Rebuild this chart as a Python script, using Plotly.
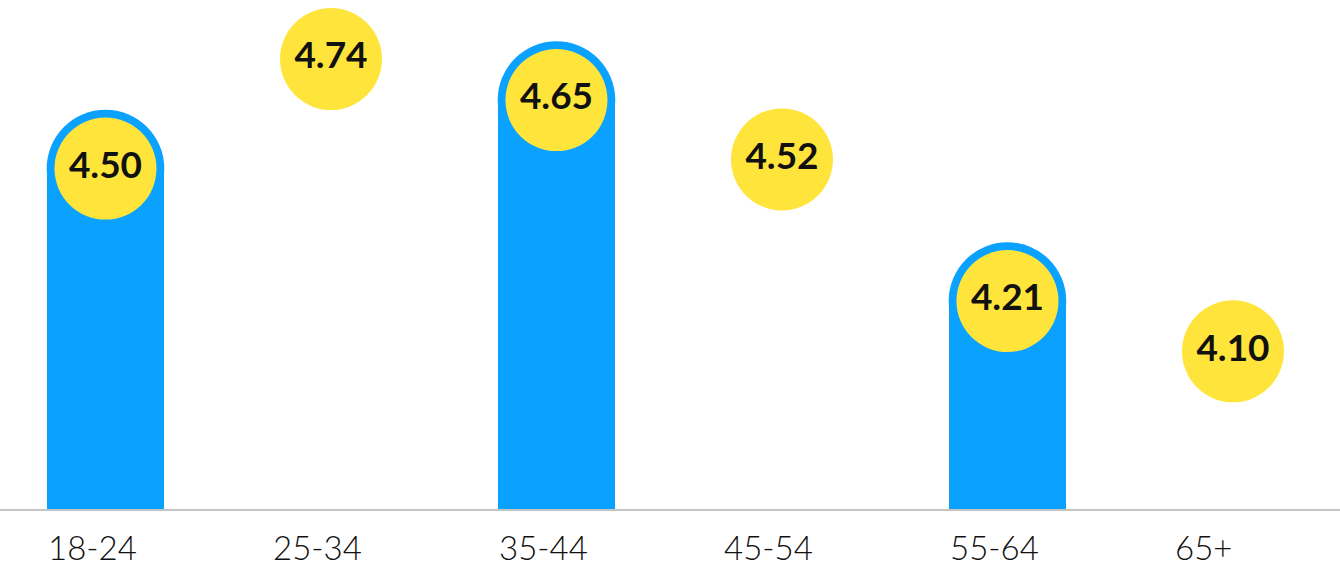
import plotly.graph_objects as go

categories = ["18-24", "25-34", "35-44", "45-54", "55-64", "65+"]
scores = [4.50, 4.74, 4.65, 4.52, 4.21, 4.10]
score_labels = ["4.50", "4.74", "4.65", "4.52", "4.21", "4.10"]
bar_categories = ["18-24", "35-44", "55-64"]
bar_scores = [4.50, 4.65, 4.21]

BLUE = "#0AA1FF"
YELLOW = "#FFE53B"
FONT = "Futura, Lato, 'Noto Sans', sans-serif"

BAR_W = 0.521  # in category units

fig = go.Figure()

# bars from baseline to value
fig.add_trace(go.Bar(
    x=bar_categories, y=bar_scores, width=BAR_W,
    marker=dict(color=BLUE, line=dict(width=0)),
    hoverinfo="skip", showlegend=False,
))
# rounded caps
fig.add_trace(go.Scatter(
    x=bar_categories, y=bar_scores, mode="markers",
    marker=dict(size=117.6, color=BLUE, line=dict(width=0)),
    hoverinfo="skip", showlegend=False, cliponaxis=False,
))
# yellow value circles
fig.add_trace(go.Scatter(
    x=categories, y=scores, mode="markers+text",
    text=score_labels, textposition="middle center",
    textfont=dict(family=FONT, size=37, color="#111111", weight="bold"),
    marker=dict(size=102, color=YELLOW, line=dict(width=0)),
    hoverinfo="skip", showlegend=False, cliponaxis=False,
))

# category labels, left-aligned with the bar edge
for i, c in enumerate(categories):
    fig.add_annotation(
        x=i - BAR_W / 2, y=-0.116, xref="x", yref="paper",
        text=c, showarrow=False, xanchor="left", yanchor="bottom",
        borderpad=0,
        font=dict(family=FONT, size=33, color="#111111", weight=300),
    )

fig.update_layout(
    width=1340, height=568,
    margin=dict(l=0, r=0, t=0, b=59),
    plot_bgcolor="white", paper_bgcolor="white",
    xaxis=dict(type="category", categoryorder="array", categoryarray=categories,
               range=[-0.4678, 5.4746], showticklabels=False, showgrid=False,
               zeroline=False, showline=True, linecolor="#c4c4c4", linewidth=2,
               ticks=""),
    yaxis=dict(range=[3.7547, 4.8692], showticklabels=False, showgrid=False,
               zeroline=False, showline=False),
    bargap=0,
)

fig.write_html(
    "out.html",
    config={"displayModeBar": False},
    post_script="document.body.style.margin='0';document.body.style.padding='0';",
)
